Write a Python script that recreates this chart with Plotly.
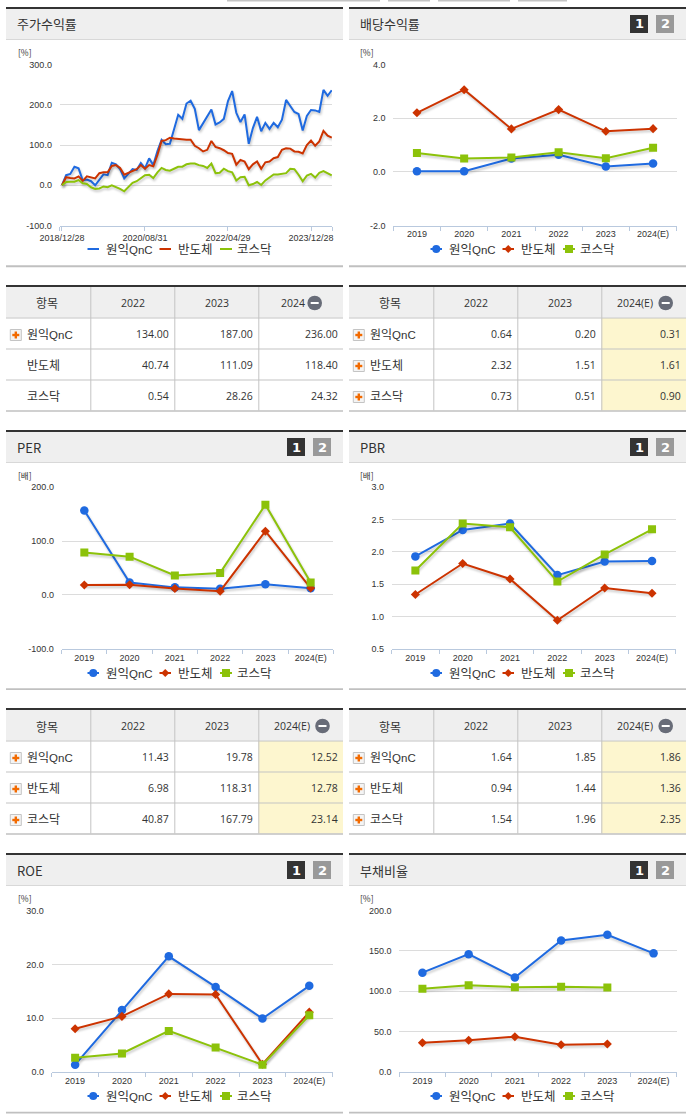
import plotly.graph_objects as go

W, H = 691, 1115
BLUE, RED, GREEN = "#1f6ae0", "#cc3300", "#8cc20a"
KR = "Noto Sans CJK KR"
NUM = "Open Sans"
TICK = "Liberation Sans"
SERIES = ["원익QnC", "반도체", "코스닥"]
YEARS = ["2019", "2020", "2021", "2022", "2023", "2024(E)"]

# 주가수익률 (monthly, 2018/12 .. 2024/05)
price_blue = [0, 25, 28, 46, 42, 12, 14, 10, 0, 14, 27, 25, 56, 52, 40, 17, 28, 40, 38, 55, 42, 67, 50, 85, 113, 102, 103,
              140, 175, 165, 203, 210, 190, 137, 155, 172, 188, 151, 156, 165, 209, 234, 180, 157, 176, 103, 142, 170,
              134, 155, 140, 155, 144, 163, 212, 197, 182, 177, 136, 172, 187, 186, 182, 237, 222, 236]
price_red = [0, 20, 18, 17, 22, 11, 22, 20, 17, 30, 32, 32, 48, 50, 43, 26, 31, 35, 40, 50, 41, 50, 47, 75, 110, 112, 118,
             116, 115, 113, 113, 113, 98, 92, 84, 88, 110, 95, 92, 87, 80, 78, 51, 63, 59, 40, 52, 59, 40.74, 57, 59, 67,
             70, 88, 92, 91, 84, 83, 79, 100, 111.09, 98, 109, 135, 123, 118.4]
price_green = [0, 8, 9, 9, 13, 5, 3, -5, -9, -8, -3, -5, 0, -4, -9, -15, -5, 6, 10, 18, 25, 26, 18, 32, 43, 38, 36, 41, 46,
               46, 52, 54, 54, 50, 48, 43, 54, 30, 31, 41, 35, 32, 12, 20, 21, 0, 3, 8, 0.54, 12, 20, 27, 27, 28, 30, 41,
               40, 26, 10, 24, 28.26, 19, 31, 35, 30, 24.32]
price_ticks = {0: "2018/12/28", 20: "2020/08/31", 40: "2022/04/29", 60: "2023/12/28"}

div_blue = [0.02, 0.02, 0.50, 0.64, 0.20, 0.31]
div_red = [2.20, 3.06, 1.60, 2.32, 1.51, 1.61]
div_green = [0.70, 0.50, 0.53, 0.73, 0.51, 0.90]

per_blue = [157, 23, 14, 11.43, 19.78, 12.52]
per_red = [18.5, 19, 12, 6.98, 118.31, 12.78]
per_green = [79, 71, 36, 40.87, 167.79, 23.14]

pbr_blue = [1.93, 2.34, 2.44, 1.64, 1.85, 1.86]
pbr_red = [1.34, 1.82, 1.58, 0.94, 1.44, 1.36]
pbr_green = [1.71, 2.44, 2.38, 1.54, 1.96, 2.35]

roe_blue = [1.3, 11.5, 21.5, 15.8, 9.9, 16.0]
roe_red = [8.0, 10.3, 14.5, 14.4, 1.4, 11.1]
roe_green = [2.6, 3.4, 7.6, 4.5, 1.3, 10.5]

debt_blue = [123, 146, 117, 163, 170, 147]
debt_red = [36, 39, 43.5, 33.5, 34.5, None]
debt_green = [103, 107.5, 105, 105.5, 104.5, None]

tbl_price = [["134.00", "187.00", "236.00"], ["40.74", "111.09", "118.40"], ["0.54", "28.26", "24.32"]]
tbl_div = [["0.64", "0.20", "0.31"], ["2.32", "1.51", "1.61"], ["0.73", "0.51", "0.90"]]
tbl_per = [["11.43", "19.78", "12.52"], ["6.98", "118.31", "12.78"], ["40.87", "167.79", "23.14"]]
tbl_pbr = [["1.64", "1.85", "1.86"], ["0.94", "1.44", "1.36"], ["1.54", "1.96", "2.35"]]

fig = go.Figure()
shapes, annos = [], []


def px(x):
    return x / W


def py(y):
    return 1 - y / H


def rect(x0, y0, x1, y1, fill, line=None, lw=0):
    shapes.append(dict(type="rect", xref="paper", yref="paper", x0=px(x0), x1=px(x1), y0=py(y0), y1=py(y1),
                       fillcolor=fill, line=dict(color=line or fill, width=lw), layer="below"))


def text(x, y, s, size=12, color="#333333", font=KR, anchor="left", bold=False):
    annos.append(dict(xref="paper", yref="paper", x=px(x), y=py(y), text=f"<b>{s}</b>" if bold else s, showarrow=False,
                      xanchor=anchor, yanchor="middle", align=anchor, xshift=0, yshift=0,
                      font=dict(family=font, size=size, color=color), borderpad=0))


def panel_head(x0, x1, top, title, buttons):
    rect(x0, top, x1, top + 2, "#333333")
    rect(x0, top + 2, x1, top + 32, "#efefef")
    rect(x0, top + 32, x1, top + 33, "#d8d8d8")
    text(x0 + 9.5, top + 17, title, size=13)
    if buttons:
        for bx, col, lab in ((x1 - 56, "#333333", "1"), (x1 - 30, "#999999", "2")):
            rect(bx, top + 8, bx + 18, top + 26, col)
            text(bx + 9, top + 17, lab, size=13, color="#ffffff", font="DejaVu Sans", anchor="center", bold=True)


def legend_key(x0, x1, y, color, sym):
    cx = (x0 + x1) / 2
    shapes.append(dict(type="line", xref="paper", yref="paper", x0=px(x0), x1=px(x1), y0=py(y), y1=py(y),
                       line=dict(color=color, width=2)))
    r = 4
    if sym == "circle":
        shapes.append(dict(type="circle", xref="paper", yref="paper", x0=px(cx - r), x1=px(cx + r), y0=py(y - r),
                           y1=py(y + r), fillcolor=color, line=dict(width=0)))
    elif sym == "diamond":
        path = (f"M {px(cx - r)} {py(y)} L {px(cx)} {py(y - r)} L {px(cx + r)} {py(y)} L {px(cx)} {py(y + r)} Z")
        shapes.append(dict(type="path", xref="paper", yref="paper", path=path, fillcolor=color, line=dict(width=0)))
    elif sym == "square":
        shapes.append(dict(type="rect", xref="paper", yref="paper", x0=px(cx - r), x1=px(cx + r), y0=py(y - r),
                           y1=py(y + r), fillcolor=color, line=dict(width=0)))


def label(name):
    return name.replace("QnC", f'<span style="font-size:11.5px;font-family:{TICK}">QnC</span>')


def legend(off, y, markers=True):
    keys = [(87.5, 99, 105), (159.5, 171, 176.5), (220, 232, 236)]
    syms = ["circle", "diamond", "square"] if markers else [None] * 3
    for (a, b, t), name, col, s in zip(keys, SERIES, (BLUE, RED, GREEN), syms):
        legend_key(a + off, b + off, y, col, s)
        text(t + off, y - 0.5, label(name), size=12.5)


axis_n = [0]
MARKER_SIZE = {"circle": 8.5, "diamond": 7, "square": 8}


def chart(x0, x1, ytop, ybot, yr, yvals, ylabels, series, unit, ux, uy, categories=True):
    axis_n[0] += 1
    n = axis_n[0]
    xa, ya = ("x", "y") if n == 1 else (f"x{n}", f"y{n}")
    for vals, col, name, sym in zip(series, (BLUE, RED, GREEN), SERIES, ("circle", "diamond", "square")):
        if categories:
            fig.add_trace(go.Scatter(x=YEARS, y=vals, name=name, mode="lines+markers", xaxis=xa, yaxis=ya,
                                     line=dict(color=col, width=2),
                                     marker=dict(symbol=sym, size=MARKER_SIZE[sym], color=col),
                                     showlegend=False, hoverinfo="skip"))
        else:
            fig.add_trace(go.Scatter(x=list(range(len(vals))), y=vals, name=name, mode="lines", xaxis=xa, yaxis=ya,
                                     line=dict(color=col, width=2), showlegend=False, hoverinfo="skip"))
    xkw = dict(domain=[px(x0), px(x1)], anchor=ya, showgrid=False, zeroline=False, showline=True,
               linecolor="#b9c9de", linewidth=1, ticks="outside", ticklen=4, tickcolor="#b9c9de", tickwidth=1,
               tickfont=dict(family=TICK, size=9, color="#333333"), fixedrange=True, ticklabelstandoff=0)
    if categories:
        xkw.update(type="category", range=[-0.5, 5.5], tickson="boundaries", categoryorder="array",
                   categoryarray=YEARS, tickmode="array", tickvals=YEARS, ticktext=YEARS)
    else:
        xkw.update(type="linear", range=[-0.55, 65.06], tickmode="array",
                   tickvals=[-0.55] + list(price_ticks) + [65.06], ticktext=[""] + list(price_ticks.values()) + [""])
    ykw = dict(domain=[py(ybot), py(ytop)], anchor=xa, range=yr, tickmode="array", tickvals=yvals, ticktext=ylabels,
               showgrid=True, gridcolor="#dcdcdc", gridwidth=1, zeroline=False, showline=False,
               ticks="outside", ticklen=5, tickcolor="rgba(0,0,0,0)",
               tickfont=dict(family=TICK, size=9, color="#333333"), fixedrange=True)
    key = "" if n == 1 else str(n)
    fig.update_layout(**{f"xaxis{key}": xkw, f"yaxis{key}": ykw})
    text(ux, uy, unit, size=8.5, font=KR)


def plus_icon(x, y):
    rect(x, y - 5.5, x + 11, y + 5.5, "#f4f4f4", "#c4c4c4", 1)
    rect(x + 2, y - 1.2, x + 9, y + 1.2, "#f26a00")
    rect(x + 4.3, y - 3.5, x + 6.7, y + 3.5, "#f26a00")


def minus_icon(cx, cy):
    shapes.append(dict(type="circle", xref="paper", yref="paper", x0=px(cx - 7.3), x1=px(cx + 7.3), y0=py(cy - 7.3),
                       y1=py(cy + 7.3), fillcolor="#686c78", line=dict(width=0)))
    shapes.append(dict(type="rect", xref="paper", yref="paper", x0=px(cx - 4), x1=px(cx + 4), y0=py(cy - 1),
                       y1=py(cy + 1), fillcolor="#ffffff", line=dict(width=0)))


def table(x0, x1, top, rows, last_head, minus_x, last_x, yellow, icons):
    cols = [x0 + 84.3, x0 + 168.3, x0 + 252.3]
    rect(x0, top, x1, top + 2, "#333333")
    rect(x0, top + 2, x1, top + 32.5, "#efefef")
    lines = [top + 32.5, top + 63.5, top + 94.5]
    if yellow:
        rect(cols[2], top + 33, x1, top + 125.5, "#fdf6cf")
    for ly in lines:
        rect(x0, ly, x1, ly + 1, "#c4c4c4")
    for cx in cols:
        rect(cx, top + 2, cx + 1, top + 125.5, "#c4c4c4")
    rect(x0, top + 125.3, x1, top + 126.8, "#c0c0c0")
    hy = top + 18
    text(x0 + 41.3, hy, "항목", size=12, anchor="center")
    text(x0 + 127, hy, "2022", size=10.5, font=NUM, anchor="center")
    text(x0 + 211, hy, "2023", size=10.5, font=NUM, anchor="center")
    text(last_x, hy, last_head, size=10.5, font=NUM, anchor="center")
    minus_icon(minus_x, hy)
    for i, (name, row) in enumerate(zip(SERIES, rows)):
        ry = top + 49 + 31 * i
        if icons[i]:
            plus_icon(x0 + 4.3, ry + 1)
        text(x0 + 20.3, ry - 0.5, label(name), size=12)
        for v, rx in zip(row, (x0 + 164, x0 + 248, x0 + 333)):
            text(rx, ry, v, size=10.5, font=NUM, anchor="right")


LX0, LX1, RX0, RX1 = 6, 343, 349, 686

# clipped page fragments along the very top
for a, b in ((227, 345), (345, 380), (388, 430), (438, 510), (518, 567)):
    rect(a, 0, b, 1.5, "#c4c4c4")

# row A
panel_head(LX0, LX1, 7, "주가수익률", False)
panel_head(RX0, RX1, 7, "배당수익률", True)
chart(59.7, 332, 64.5, 225.5, [-100, 300], [-100, 0, 100, 200, 300], ["-100.0", "0.0", "100.0", "200.0", "300.0"],
      (price_blue, price_red, price_green), "[%]", 16.5, 52, categories=False)
chart(393.3, 676.7, 64.5, 225.5, [-2, 4], [-2, 0, 2, 4], ["-2.0", "0.0", "2.0", "4.0"],
      (div_blue, div_red, div_green), "[%]", 359.5, 52)
legend(0, 249, markers=False)
legend(343, 249)
rect(LX0, 265.3, LX1, 267.3, "#c0c0c0")
rect(RX0, 265.3, RX1, 267.3, "#c0c0c0")

table(LX0, LX1, 285, tbl_price, "2024", 314.7, 292.7, False, [True, False, False])
table(RX0, RX1, 285, tbl_div, "2024(E)", 665.7, 635, True, [True, True, True])

# row B
panel_head(LX0, LX1, 430, "PER", True)
panel_head(RX0, RX1, 430, "PBR", True)
chart(61.7, 333.3, 487.3, 648.7, [-100, 200], [-100, 0, 100, 200], ["-100.0", "0.0", "100.0", "200.0"],
      (per_blue, per_red, per_green), "[배]", 16.5, 475)
chart(391.7, 675.7, 487.3, 648.7, [0.5, 3], [0.5, 1, 1.5, 2, 2.5, 3], ["0.5", "1.0", "1.5", "2.0", "2.5", "3.0"],
      (pbr_blue, pbr_red, pbr_green), "[배]", 359.5, 475)
legend(0, 673)
legend(343, 673)
rect(LX0, 688.3, LX1, 690, "#c0c0c0")
rect(RX0, 688.3, RX1, 690, "#c0c0c0")

table(LX0, LX1, 708, tbl_per, "2024(E)", 322.5, 292, True, [True, True, True])
table(RX0, RX1, 708, tbl_pbr, "2024(E)", 665.7, 635, True, [True, True, True])

# row C
panel_head(LX0, LX1, 853, "ROE", True)
panel_head(RX0, RX1, 853, "부채비율", True)
chart(51.7, 332.7, 910.7, 1071.7, [0, 30], [0, 10, 20, 30], ["0.0", "10.0", "20.0", "30.0"],
      (roe_blue, roe_red, roe_green), "[%]", 16.5, 898)
chart(399.3, 676.7, 910.7, 1071.7, [0, 200], [0, 50, 100, 150, 200], ["0.0", "50.0", "100.0", "150.0", "200.0"],
      (debt_blue, debt_red, debt_green), "[%]", 359.5, 898)
legend(0, 1096)
legend(343, 1096)
rect(LX0, 1111.7, LX1, 1113.5, "#c0c0c0")
rect(RX0, 1111.7, RX1, 1113.5, "#c0c0c0")

fig.update_layout(width=W, height=H, margin=dict(l=0, r=0, t=0, b=0, autoexpand=False), autosize=False,
                  paper_bgcolor="#ffffff", plot_bgcolor="rgba(0,0,0,0)", showlegend=False, shapes=shapes,
                  annotations=annos)

post = """
document.body.style.margin='0';
document.documentElement.style.overflow='hidden';
var s=document.createElement('style');
s.textContent='.scatterlayer .js-line{filter:drop-shadow(1px 2px 1px rgba(0,0,0,.22));}';
document.head.appendChild(s);
"""
fig.write_html("out.html", config=dict(displayModeBar=False, staticPlot=True), post_script=post)
